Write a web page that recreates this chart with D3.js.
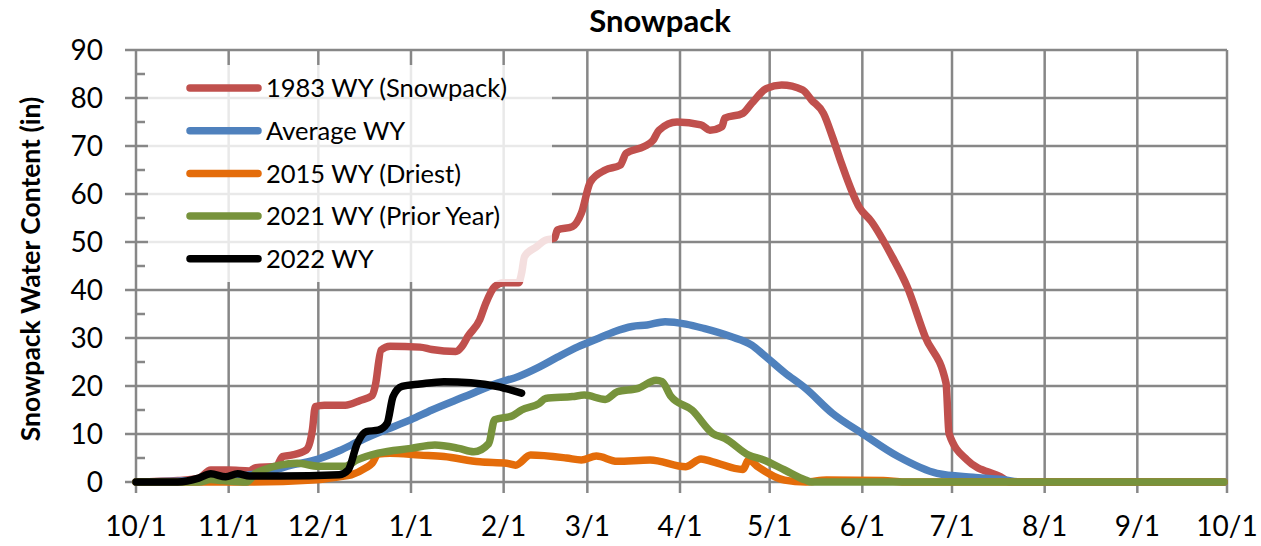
<!DOCTYPE html>
<html lang="en">
<head>
  <meta charset="UTF-8">
  <title>Snowpack</title>
  <script src="https://d3js.org/d3.v7.min.js"></script>
  <style>
    body { margin: 0; background: #fff; }
    svg text { font-family: Lato, "Open Sans", sans-serif; fill: #000; }
    .grid line { stroke: #878787; stroke-width: 2.5px; }
    .series { fill: none; stroke-width: 7.5px; stroke-linejoin: round; stroke-linecap: round; }
  </style>
</head>
<body>
  <svg id="chart" width="1261" height="546"></svg>

  <script>
    // water-year dates (M/D)
    const wy1983 = [
      ["10/1", 0], ["10/15", 0.3], ["10/22", 0.8], ["10/26", 2.5], ["11/1", 2.5], ["11/8", 2.3], ["11/10", 3],
      ["11/17", 3.3], ["11/19", 5.3], ["11/22", 5.6], ["11/27", 6.7], ["11/29", 10.8], ["11/30", 15.7],
      ["12/3", 16], ["12/10", 16], ["12/15", 17], ["12/19", 18], ["12/20", 19.9], ["12/22", 27.5],
      ["12/25", 28.3], ["1/4", 28.1], ["1/8", 27.6], ["1/16", 27.2], ["1/18", 28.2], ["1/20", 30.3],
      ["1/24", 33.8], ["1/26", 37.2], ["1/29", 40.7], ["2/1", 41.5], ["2/6", 41.5], ["2/7", 43.5],
      ["2/8", 47], ["2/12", 49], ["2/15", 50.4], ["2/18", 50.8], ["2/19", 52.5], ["2/24", 53.2],
      ["2/27", 56], ["3/2", 62.5], ["3/7", 65], ["3/12", 66], ["3/14", 68.5], ["3/20", 69.9],
      ["3/23", 71.2], ["3/25", 73.3], ["3/31", 75], ["4/8", 74.4], ["4/11", 73.3], ["4/15", 74],
      ["4/16", 75.8], ["4/22", 76.8], ["4/25", 78.9], ["4/30", 82], ["5/5", 82.7], ["5/12", 81.7],
      ["5/15", 79.6], ["5/19", 76.8], ["5/22", 71.9], ["5/25", 66.4], ["5/31", 57.2], ["6/4", 54.3],
      ["6/11", 46.9], ["6/16", 40.7], ["6/22", 30.3], ["6/29", 20.6], ["6/30", 10.1], ["7/6", 4.6],
      ["7/18", 0.8], ["7/20", 0], ["9/30", 0]
    ];
    const wyAverage = [
      ["10/1", 0], ["10/20", 0.3], ["11/1", 0.9], ["11/15", 2.3], ["11/22", 3.5], ["12/1", 4.8],
      ["12/8", 6.5], ["12/15", 8.6], ["12/22", 10.5], ["1/1", 13], ["1/8", 15], ["1/19", 17.8],
      ["1/30", 20.6], ["2/6", 22], ["2/13", 24], ["2/19", 26], ["2/26", 28.2], ["3/5", 30],
      ["3/10", 31.3], ["3/16", 32.4], ["3/21", 32.7], ["3/27", 33.4], ["4/3", 32.9], ["4/9", 32],
      ["4/18", 30.3], ["4/25", 28.5], ["4/29", 26.5], ["5/6", 22.8], ["5/13", 19.5], ["5/22", 14.3],
      ["6/1", 10.1], ["6/13", 5.3], ["6/26", 1.8], ["7/8", 1], ["7/18", 0.5], ["7/24", 0], ["9/30", 0]
    ];
    const wy2015 = [
      ["10/1", 0], ["11/8", 0], ["11/29", 0.4], ["12/8", 1.1], ["12/12", 1.5], ["12/17", 3],
      ["12/19", 3.9], ["12/21", 5.8], ["12/25", 6], ["1/4", 5.6], ["1/12", 5.3], ["1/24", 4.2],
      ["2/2", 3.9], ["2/5", 3.5], ["2/10", 5.6], ["2/22", 5], ["2/27", 4.6], ["3/4", 5.4],
      ["3/11", 4.3], ["3/22", 4.6], ["4/3", 3.2], ["4/8", 4.8], ["4/12", 4.2], ["4/22", 2.6],
      ["4/24", 4.6], ["4/27", 3.2], ["5/6", 0.4], ["5/13", 0], ["5/20", 0.4], ["6/8", 0.3],
      ["6/15", 0], ["9/30", 0]
    ];
    const wy2021 = [
      ["10/1", 0], ["10/22", 0], ["10/26", 0.5], ["10/30", 0.3], ["11/7", 0], ["11/10", 1.8],
      ["11/13", 2.6], ["11/18", 3.5], ["11/24", 3.9], ["12/1", 3.3], ["12/10", 3.3], ["12/14", 4.6],
      ["12/21", 6], ["1/1", 7], ["1/9", 7.7], ["1/17", 7], ["1/22", 6.3], ["1/27", 8], ["1/29", 13],
      ["2/4", 13.8], ["2/7", 15], ["2/13", 16.4], ["2/15", 17.4], ["2/24", 17.8], ["2/28", 18.1],
      ["3/7", 17.2], ["3/11", 18.8], ["3/18", 19.5], ["3/24", 21.2], ["3/26", 20.9], ["3/29", 17.8],
      ["4/5", 15], ["4/12", 10.1], ["4/16", 9.1], ["4/24", 5.6], ["4/29", 4.6], ["5/6", 2.5],
      ["5/13", 0.4], ["5/15", 0], ["9/30", 0]
    ];
    const wy2022 = [
      ["10/1", 0], ["10/15", 0], ["10/22", 0.8], ["10/26", 1.7], ["10/31", 1.1], ["11/4", 1.7],
      ["11/8", 1.25], ["11/18", 1.25], ["12/8", 1.5], ["12/11", 2.5], ["12/14", 8], ["12/17", 10.5],
      ["12/21", 10.8], ["12/24", 12.2], ["12/26", 17.8], ["12/29", 19.9], ["1/4", 20.4],
      ["1/12", 20.9], ["1/21", 20.7], ["1/30", 19.9], ["2/7", 18.5]
    ];

    const seriesNames = ["1983 WY (Snowpack)", "Average WY", "2015 WY (Driest)", "2021 WY (Prior Year)", "2022 WY"];
    const seriesColors = ["#C0504D", "#4F81BD", "#E46C0A", "#77933C", "#000000"];
    const seriesData = [wy1983, wyAverage, wy2015, wy2021, wy2022];
    const yTicks = [0, 10, 20, 30, 40, 50, 60, 70, 80, 90];
    const yMinorTicks = [5, 15, 25, 35, 45, 55, 65, 75, 85];

    // Oct-Dec belong to 2021, the rest to 2022
    function parseDay(s) {
      const [m, d] = s.split("/").map(Number);
      return new Date(m >= 10 ? 2021 : 2022, m - 1, d);
    }

    const plotLeft = 136, plotRight = 1227, plotTop = 50, plotBottom = 482;
    const svg = d3.select("#chart");

    const x = d3.scaleTime()
      .domain([new Date(2021, 9, 1), new Date(2022, 9, 1)])
      .range([plotLeft, plotRight]);
    const y = d3.scaleLinear().domain([0, 90]).range([plotBottom, plotTop]);
    const monthTicks = d3.timeMonth.range(new Date(2021, 9, 1), new Date(2022, 9, 2));

    // gridlines
    const grid = svg.append("g").attr("class", "grid");
    grid.selectAll(".h").data(yTicks).join("line")
      .attr("x1", plotLeft - 11).attr("x2", plotRight)
      .attr("y1", d => y(d)).attr("y2", d => y(d));
    grid.selectAll(".v").data(monthTicks).join("line")
      .attr("x1", d => x(d)).attr("x2", d => x(d))
      .attr("y1", plotTop).attr("y2", plotBottom + 11);
    grid.selectAll(".m").data(yMinorTicks).join("line")
      .attr("x1", plotLeft).attr("x2", plotLeft + 9)
      .attr("y1", d => y(d)).attr("y2", d => y(d));

    // axis labels
    svg.append("g").selectAll("text").data(yTicks).join("text")
      .attr("x", 103).attr("y", d => y(d))
      .attr("dy", "0.36em")
      .attr("text-anchor", "end")
      .style("font-size", "28px")
      .text(d => d);

    const fmt = d3.timeFormat("%-m/%-d");
    svg.append("g").selectAll("text").data(monthTicks).join("text")
      .attr("x", d => x(d)).attr("y", 536)
      .attr("text-anchor", "middle")
      .style("font-size", "28px")
      .text(d => fmt(d));

    // lines
    const line = d3.line()
      .x(d => x(parseDay(d[0])))
      .y(d => y(d[1]))
      .curve(d3.curveMonotoneX);

    svg.append("g").selectAll("path").data(seriesData).join("path")
      .attr("class", "series")
      .attr("stroke", (d, i) => seriesColors[i])
      .attr("d", d => line(d));

    // legend with translucent background
    const legend = svg.append("g");
    legend.append("rect")
      .attr("x", 148).attr("y", 65).attr("width", 404).attr("height", 217)
      .attr("fill", "#fff").attr("fill-opacity", 0.82);
    const item = legend.selectAll(".item").data(seriesNames).join("g")
      .attr("transform", (d, i) => `translate(0, ${88 + i * 42.7})`);
    item.append("line")
      .attr("x1", 190).attr("x2", 258)
      .attr("stroke", (d, i) => seriesColors[i])
      .attr("stroke-width", 7.5).attr("stroke-linecap", "round");
    item.append("text")
      .attr("x", 266).attr("dy", "0.36em")
      .style("font-size", "25.5px")
      .text(d => d);

    // titles
    svg.append("text")
      .attr("x", 660).attr("y", 32)
      .attr("text-anchor", "middle")
      .style("font-size", "31px").style("font-weight", "bold")
      .text("Snowpack");

    svg.append("text")
      .attr("transform", "translate(40, 269) rotate(-90)")
      .attr("text-anchor", "middle")
      .style("font-size", "26.5px").style("font-weight", "bold")
      .text("Snowpack Water Content (in)");
  </script>
</body>
</html>
